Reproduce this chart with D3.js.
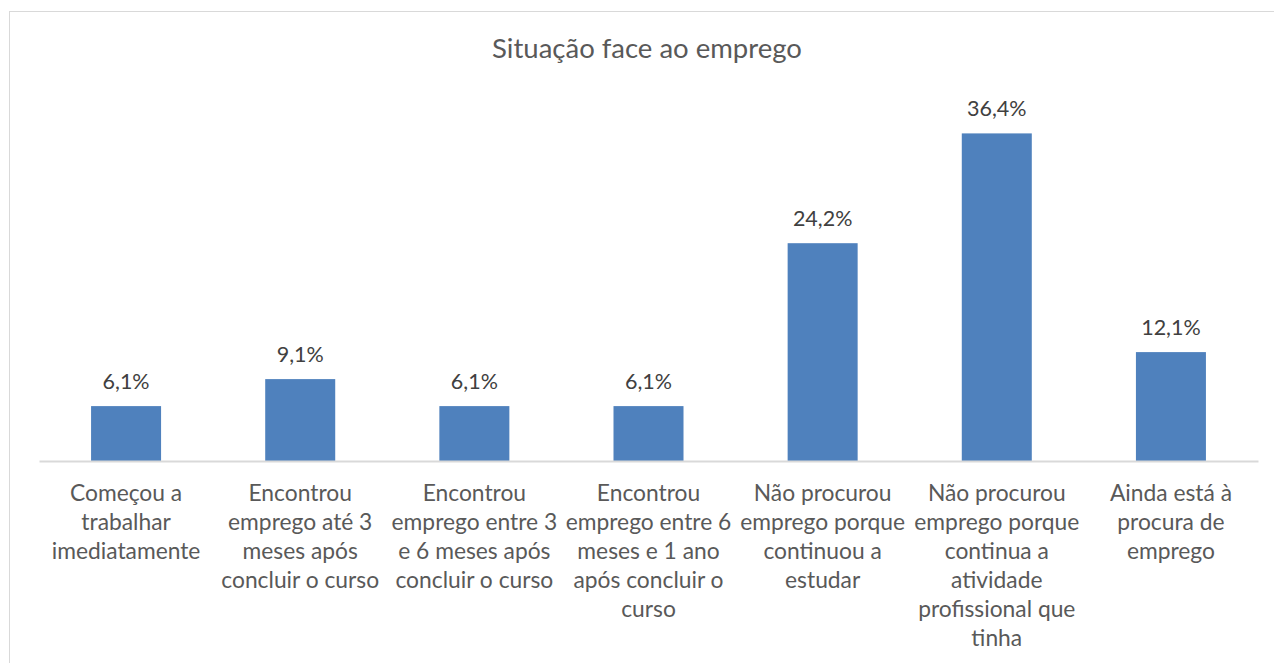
<!DOCTYPE html>
<html>
<head>
<meta charset="utf-8">
<script src="https://cdn.jsdelivr.net/npm/d3@7"></script>
<style>
    body { margin: 0; background: #fff; }
    svg { display: block; font-family: Lato, "Noto Sans", sans-serif; }
</style>
</head>
<body>
<div id="chart"></div>
<script>
// Chart data
const title = "Situação face ao emprego";
const categories = [
    ["Começou a", "trabalhar", "imediatamente"],
    ["Encontrou", "emprego até 3", "meses após", "concluir o curso"],
    ["Encontrou", "emprego entre 3", "e 6 meses após", "concluir o curso"],
    ["Encontrou", "emprego entre 6", "meses e 1 ano", "após concluir o", "curso"],
    ["Não procurou", "emprego porque", "continuou a", "estudar"],
    ["Não procurou", "emprego porque", "continua a", "atividade", "profissional que", "tinha"],
    ["Ainda está à", "procura de", "emprego"]
];
const values = [6.1, 9.1, 6.1, 6.1, 24.2, 36.4, 12.1];
const valueLabels = ["6,1%", "9,1%", "6,1%", "6,1%", "24,2%", "36,4%", "12,1%"];

const width = 1274, height = 663;
const margin = { left: 39, right: 16, top: 101, bottom: 202 };

const svg = d3.select("#chart").append("svg")
    .attr("width", width)
    .attr("height", height);

// Chart frame (right and bottom edges fall outside the picture)
svg.append("rect")
    .attr("x", 9.5).attr("y", 11.5)
    .attr("width", width + 20).attr("height", height + 20)
    .attr("fill", "#fff")
    .attr("stroke", "#d9d9d9")
    .attr("stroke-width", 1);

const x = d3.scaleBand()
    .domain(d3.range(values.length))
    .range([margin.left, width - margin.right])
    .paddingInner(0.598)
    .paddingOuter(0.299);

const y = d3.scaleLinear()
    .domain([0, 40])
    .range([height - margin.bottom, margin.top]);

// Title
svg.append("text")
    .attr("x", 647).attr("y", 58)
    .attr("text-anchor", "middle")
    .attr("fill", "#595959")
    .style("font-size", "27.5px")
    .text(title);

// Bars
svg.selectAll(".bar")
    .data(values)
    .enter()
    .append("rect")
    .attr("class", "bar")
    .attr("x", (d, i) => x(i))
    .attr("y", d => y(d))
    .attr("width", x.bandwidth())
    .attr("height", d => y(0) - y(d))
    .attr("fill", "#4f81bd");

// Value labels
svg.selectAll(".vlabel")
    .data(values)
    .enter()
    .append("text")
    .attr("class", "vlabel")
    .attr("x", (d, i) => x(i) + x.bandwidth() / 2)
    .attr("y", d => y(d) - 17)
    .attr("text-anchor", "middle")
    .attr("fill", "#404040")
    .style("font-size", "21.5px")
    .text((d, i) => valueLabels[i]);

// Category axis
const axis = svg.append("g")
    .attr("transform", `translate(0,${y(0)})`)
    .call(d3.axisBottom(x).tickSize(0).tickFormat(""));
axis.select(".domain").attr("stroke", "#d9d9d9").attr("stroke-width", 2);

// Multi-line category labels
const catGroups = svg.selectAll(".cat")
    .data(categories)
    .enter()
    .append("text")
    .attr("class", "cat")
    .attr("text-anchor", "middle")
    .attr("fill", "#595959")
    .style("font-size", "22.8px");

catGroups.each(function(lines, i) {
    const cx = x(i) + x.bandwidth() / 2;
    d3.select(this).selectAll("tspan")
        .data(lines)
        .enter()
        .append("tspan")
        .attr("x", cx)
        .attr("y", (d, j) => y(0) + 40 + j * 29)
        .text(d => d);
});
</script>
</body>
</html>
